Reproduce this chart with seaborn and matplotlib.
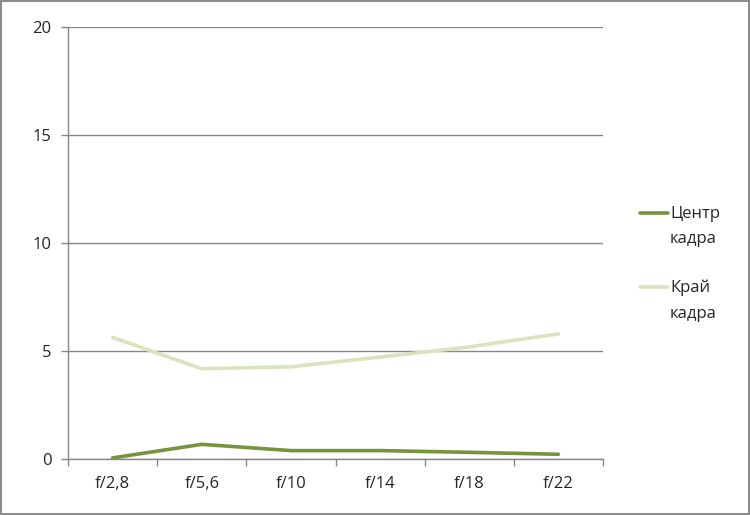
import numpy as np
import pandas as pd
import matplotlib
matplotlib.use("Agg")
import matplotlib.pyplot as plt
import seaborn as sns

# ------------------------------------------------------------
# Data
# ------------------------------------------------------------

apertures = ["f/2,8", "f/5,6", "f/10", "f/14", "f/18", "f/22"]
centre = [0.05, 0.68, 0.39, 0.39, 0.31, 0.22]
edge = [5.63, 4.18, 4.27, 4.72, 5.19, 5.79]
series_names = ["Центр\nкадра", "Край\nкадра"]
y_ticks = [0, 5, 10, 15, 20]

df = pd.DataFrame({
    "pos": list(range(len(apertures))) * 2,
    "value": centre + edge,
    "series": [series_names[0]] * len(centre) + [series_names[1]] * len(edge),
})

# ------------------------------------------------------------
# Plot
# ------------------------------------------------------------

sns.set_theme(style="white")
plt.rcParams["font.family"] = ["Open Sans", "DejaVu Sans"]

fig = plt.figure(figsize=(7.5, 5.15), dpi=100)
fig.patch.set_edgecolor("#8c8c8c")
fig.patch.set_linewidth(1.5)
ax = fig.add_axes([0.0907, 0.1087, 0.7133, 0.8389])

colors = ["#77933c", "#d7e4bd"]
palette = dict(zip(series_names, colors))
sns.lineplot(data=df, x="pos", y="value", hue="series", palette=palette,
             sort=False, ax=ax, linewidth=2.6, legend=False)

grid_col = "#868686"
ax.set_xlim(-0.5, len(apertures) - 0.5)
ax.set_ylim(0, 20)
ax.set_yticks(y_ticks)
ax.set_yticklabels([str(t) for t in y_ticks], fontsize=12)
ax.yaxis.grid(True, color=grid_col, linewidth=1)
ax.set_axisbelow(True)

# category labels at centres, tick marks at boundaries
ax.set_xticks(np.arange(-0.5, len(apertures), 1.0))
ax.set_xticklabels([])
ax.set_xticks(range(len(apertures)), minor=True)
ax.set_xticklabels(apertures, minor=True, fontsize=12)
ax.tick_params(axis="x", which="major", direction="out", length=5,
               color=grid_col, width=1, bottom=True)
ax.tick_params(axis="x", which="minor", length=0, pad=12)
ax.tick_params(axis="y", direction="out", length=5, color=grid_col,
               width=1, left=True, pad=7)

for s in ["top", "right"]:
    ax.spines[s].set_visible(False)
for s in ["left", "bottom"]:
    ax.spines[s].set_color(grid_col)
    ax.spines[s].set_linewidth(1)

ax.set_xlabel("")
ax.set_ylabel("")

# legend: handle level with the first line of each label (Excel style)
leg_y = [213, 287]
for name, col, y in zip(series_names, colors, leg_y):
    fig.add_artist(plt.Line2D([640 / 750, 668 / 750], [1 - y / 515, 1 - y / 515],
                              color=col, linewidth=2.6,
                              transform=fig.transFigure))
    fig.text(670 / 750, 1 - (y - 7) / 515, name, fontsize=12, ha="left",
             va="top", linespacing=1.75, transform=fig.transFigure)

fig.savefig("out.png", dpi=100)
